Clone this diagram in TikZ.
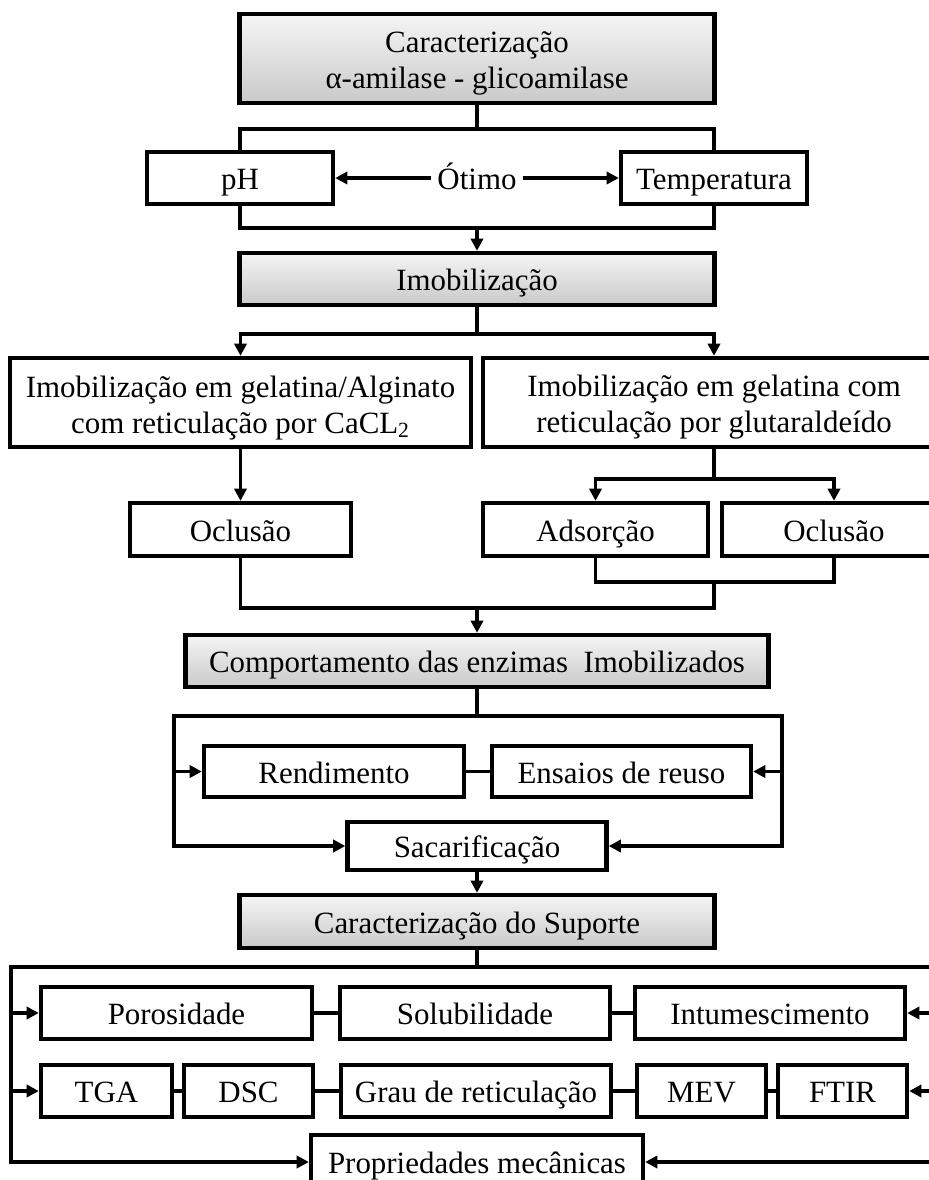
\documentclass[tikz,border=0pt]{standalone}
\usepackage{fontspec}
\setmainfont{Liberation Serif}
\usetikzlibrary{arrows.meta, positioning, calc}

\begin{document}
\begin{tikzpicture}[x=0.02cm, y=-0.02cm, >={Triangle[length=7pt, width=7pt]}, font=\fontsize{17.6}{20.5}\selectfont]

		% Define block styles
		\tikzstyle{wide} = [rectangle, draw, line width=2.5pt, fill=white, align=center, inner sep=2pt]
		\tikzstyle{box} = [wide, text height=13.5pt, text depth=0pt]
		\tikzstyle{head} = [box, top color=gray!8, bottom color=gray!42]
		\tikzstyle{headwide} = [wide, top color=gray!8, bottom color=gray!42]
		\tikzstyle{link} = [line width=2.2pt]

		\useasboundingbox (0,0) rectangle (929,1180);
		\clip (0,0) rectangle (929,1180);

		% Nodes
		\node[headwide, minimum width=9.5cm, minimum height=1.78cm] (carac) at (477,58.5) {\rule{0pt}{18pt}Caracterização\\α-amilase - glicoamilase};
		\node[box, minimum width=3.72cm, minimum height=1.04cm] (ph) at (240,178) {pH};
		\node[box, minimum width=3.72cm, minimum height=1.04cm] (temp) at (714,178) {Temperatura};
		\node[text height=13.5pt, text depth=0pt] (otimo) at (477,178) {Ótimo};
		\node[head, minimum width=9.5cm, minimum height=1.04cm] (imob) at (477,279) {Imobilização};

		\node[wide, minimum width=9.22cm, minimum height=1.78cm] (alg) at (240.5,402.5) {\rule{0pt}{18pt}Imobilização em gelatina/Alginato\\com reticulação por CaCL\textsubscript{2}};
		\node[wide, minimum width=9.24cm, minimum height=1.78cm] (glut) at (714,402.5) {\rule{0pt}{18pt}Imobilização em gelatina com\\reticulação por glutaraldeído};
		\node[box, minimum width=4.42cm, minimum height=1.06cm] (ocl1) at (240.5,529.5) {Oclusão};
		\node[box, minimum width=4.5cm, minimum height=1.06cm] (ads) at (595.5,529.5) {Adsorção};
		\node[box, minimum width=4.48cm, minimum height=1.06cm] (ocl2) at (834,529.5) {Oclusão};

		\node[head, minimum width=11.66cm, minimum height=1.04cm] (comp) at (477,661) {Comportamento das enzimas\ \ Imobilizados};
		\node[box, minimum width=5.2cm, minimum height=1.02cm] (rend) at (334,771.5) {Rendimento};
		\node[box, minimum width=5.18cm, minimum height=1.02cm] (ens) at (621.5,771.5) {Ensaios de reuso};
		\node[box, minimum width=5.18cm, minimum height=0.96cm] (sac) at (477,846) {Sacarificação};

		\node[head, minimum width=9.5cm, minimum height=1.06cm] (sup) at (477,921.5) {Caracterização do Suporte};
		\node[box, minimum width=5.42cm, minimum height=1.04cm] (poro) at (176.5,1013) {Porosidade};
		\node[box, minimum width=5.4cm, minimum height=1.04cm] (solu) at (475,1013) {Solubilidade};
		\node[box, minimum width=5.4cm, minimum height=1.04cm] (intu) at (770,1013) {Intumescimento};
		\node[box, minimum width=2.62cm, minimum height=1.04cm] (tga) at (106.5,1091) {TGA};
		\node[box, minimum width=2.58cm, minimum height=1.04cm] (dsc) at (248.5,1091) {DSC};
		\node[box, minimum width=5.4cm, minimum height=1.04cm] (grau) at (476,1091) {Grau de reticulação};
		\node[box, minimum width=2.58cm, minimum height=1.04cm] (mev) at (701.5,1091) {MEV};
		\node[box, minimum width=2.58cm, minimum height=1.04cm] (ftir) at (842.5,1091) {FTIR};
		\node[box, minimum width=6.64cm, minimum height=1.08cm] (prop) at (477,1162) {Propriedades mecânicas};

		% Junctions
		\coordinate (j1) at (477,228);
		\coordinate (j2) at (714,582);
		\coordinate (j3) at (477,608);
		\coordinate (c1) at (174,716);
		\coordinate (c2) at (782,716);
		\coordinate (c3) at (11,967);
		\coordinate (c4) at (945,967);

		% Arrows
		\draw[link] (carac.south) -- ++(0,24) -| (ph.north);
		\draw[link] (carac.south) -- ++(0,24) -| (temp.north);
		\draw[link, ->] (otimo) -- (ph);
		\draw[link, ->] (otimo) -- (temp);
		\draw[link] (ph.south) |- (j1) -| (temp.south);
		\draw[link, ->] (j1) -- (imob);
		\draw[link, ->] (imob.south) -- ++(0,27) -| (alg.north);
		\draw[link, ->] (imob.south) -- ++(0,27) -| (glut.north);
		\draw[link, ->] (alg) -- (ocl1);
		\draw[link, ->] (glut.south) -- ++(0,30) -| (ads.north);
		\draw[link, ->] (glut.south) -- ++(0,30) -| (ocl2.north);
		\draw[link] (ads.south) |- (j2) -| (ocl2.south);
		\draw[link] (ocl1.south) |- (j3) -| (j2);
		\draw[link, ->] (j3) -- (comp);

		\draw[link, ->] (comp.south) |- (c1) |- (sac.west);
		\draw[link, ->] (comp.south) |- (c2) |- (sac.east);
		\draw[link, ->] (c1 |- rend.west) -- (rend.west);
		\draw[link, ->] (c2 |- ens.east) -- (ens.east);
		\draw[link] (rend) -- (ens);
		\draw[link, ->] (sac) -- (sup);

		\draw[link, ->] (sup.south) |- (c3) |- (prop.west);
		\draw[link, ->] (sup.south) |- (c4) |- (prop.east);
		\draw[link, ->] (c3 |- poro.west) -- (poro.west);
		\draw[link, ->] (c3 |- tga.west) -- (tga.west);
		\draw[link, ->] (c4 |- intu.east) -- (intu.east);
		\draw[link, ->] (c4 |- ftir.east) -- (ftir.east);
		\draw[link] (poro) -- (solu) -- (intu);
		\draw[link] (tga) -- (dsc) -- (grau) -- (mev) -- (ftir);

	\end{tikzpicture}
\end{document}
